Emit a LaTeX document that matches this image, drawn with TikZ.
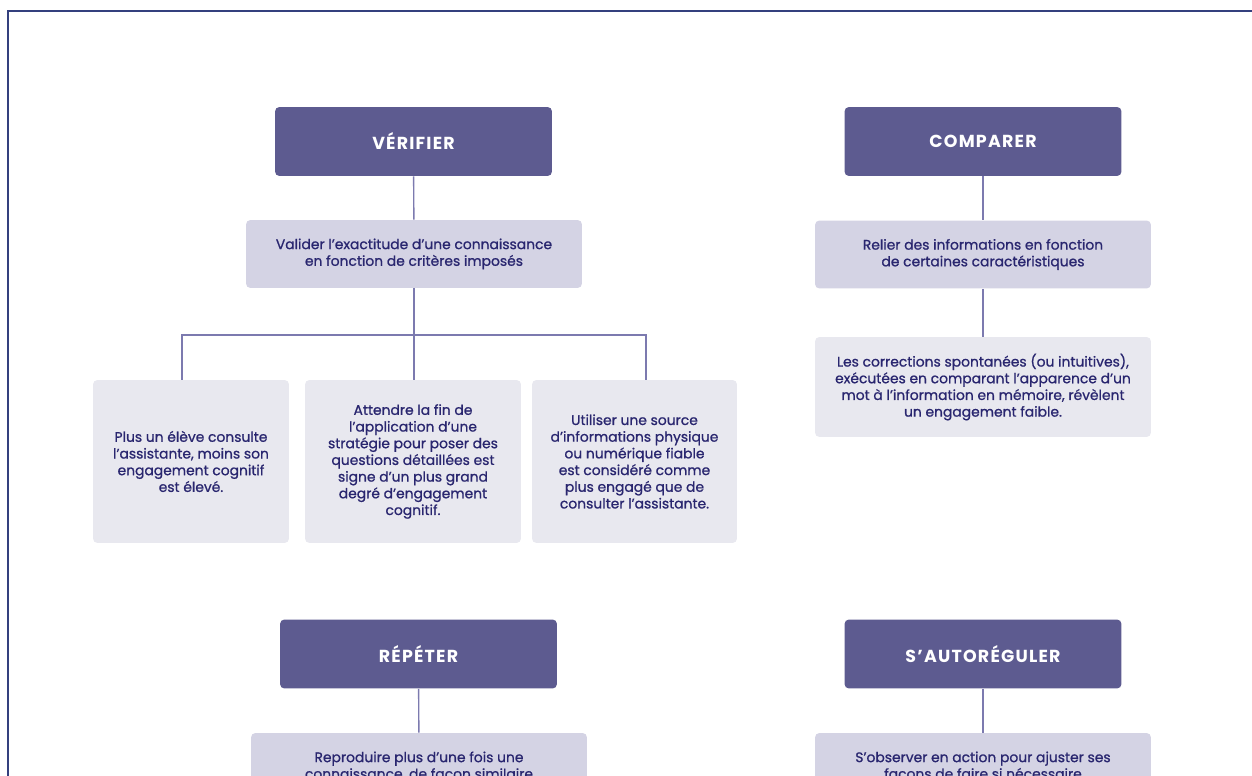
\documentclass[tikz,border=0pt]{standalone}
\usepackage{fontspec}
\setmainfont{Poppins}[FakeBold=0.9]
\newfontfamily\capsfont[LetterSpace=7]{Poppins}
\usepackage{tikz}
\usetikzlibrary{positioning}

\definecolor{frameblue}{HTML}{34407E}
\definecolor{headfill}{HTML}{5D5B90}
\definecolor{deffill}{HTML}{D4D3E4}
\definecolor{leaffill}{HTML}{E8E8EF}
\definecolor{linkcol}{HTML}{7C7AAF}
\definecolor{inkcol}{HTML}{29266F}

\begin{document}
\begin{tikzpicture}[x=0.02cm,y=-0.02cm]
    \newcommand{\bodysize}{\fontsize{7.9}{9.5}\selectfont}

    \tikzstyle{link} = [draw=linkcol,line width=0.8pt]
    \tikzstyle{head}=[
      rectangle,
      rounded corners=2.5pt,
      fill=headfill,
      text=white,
      font=\capsfont\bfseries\fontsize{9.9}{11}\selectfont,
      minimum width=5.54cm,
      minimum height=1.38cm,
      inner sep=0pt,
    ]
    \tikzstyle{defbox}=[
      rectangle,
      rounded corners=2.5pt,
      fill=deffill,
      text=inkcol,
      align=center,
      font=\bodysize,
      minimum width=6.72cm,
      minimum height=1.36cm,
      inner sep=0pt,
    ]
    \tikzstyle{leaf}=[
      defbox,
      fill=leaffill,
      minimum height=3.26cm,
    ]

    \useasboundingbox (0,0) rectangle (1252,776);
    \clip (0,0) rectangle (1252,776);
    \draw[frameblue,line width=1.2pt] (8,11) rectangle (1280,800);

    {
      \node[head] (verif) at (413.5,141.5) {VÉRIFIER};
      \node[head] (compar) at (983,141.5) {COMPARER};
      \node[head] (repet) at (418.5,654) {RÉPÉTER};
      \node[head] (autoreg) at (983,654) {S’AUTORÉGULER};

      \node[defbox] (valid) at (414,254) {Valider l’exactitude d’une connaissance\\en fonction de critères imposés};
      \node[defbox] (relier) at (983,254.5) {Relier des informations en fonction\\de certaines caractéristiques};
      \node[defbox] (reprod) at (419,767) {Reproduire plus d’une fois une\\connaissance, de façon similaire};
      \node[defbox] (observ) at (983,767) {S’observer en action pour ajuster ses\\façons de faire si nécessaire};

      \node[leaf,minimum width=3.92cm] (consult) at (191,461.5) {Plus un élève consulte\\l’assistante, moins son\\engagement cognitif\\est élevé.};
      \node[leaf,minimum width=4.32cm] (attend) at (413,461.5) {Attendre la fin de\\l’application d’une\\stratégie pour poser des\\questions détaillées est\\signe d’un plus grand\\degré d’engagement\\cognitif.};
      \node[leaf,minimum width=4.1cm] (source) at (634.5,461.5) {Utiliser une source\\d’informations physique\\ou numérique fiable\\est considéré comme\\plus engagé que de\\consulter l’assistante.};
      \node[leaf,minimum height=2.0cm] (correct) at (983,387) {Les corrections spontanées (ou intuitives),\\exécutées en comparant l’apparence d’un\\mot à l’information en mémoire, révèlent\\un engagement faible.};
    }

    % branch points over the three leaves
    \coordinate (bar) at (414,335);
    \coordinate (dropA) at (182,380);
    \coordinate (dropC) at (646,380);

    {
      \draw[link] (verif)--(valid);
      \draw[link] (valid.south)--(valid.south |- consult.north);
      \draw[link] (dropA) |- (bar) -| (dropC);

      \draw[link] (compar)--(relier);
      \draw[link] (relier)--(correct);

      \draw[link] (repet)--(reprod);
      \draw[link] (autoreg)--(observ);
    }
\end{tikzpicture}
\end{document}
